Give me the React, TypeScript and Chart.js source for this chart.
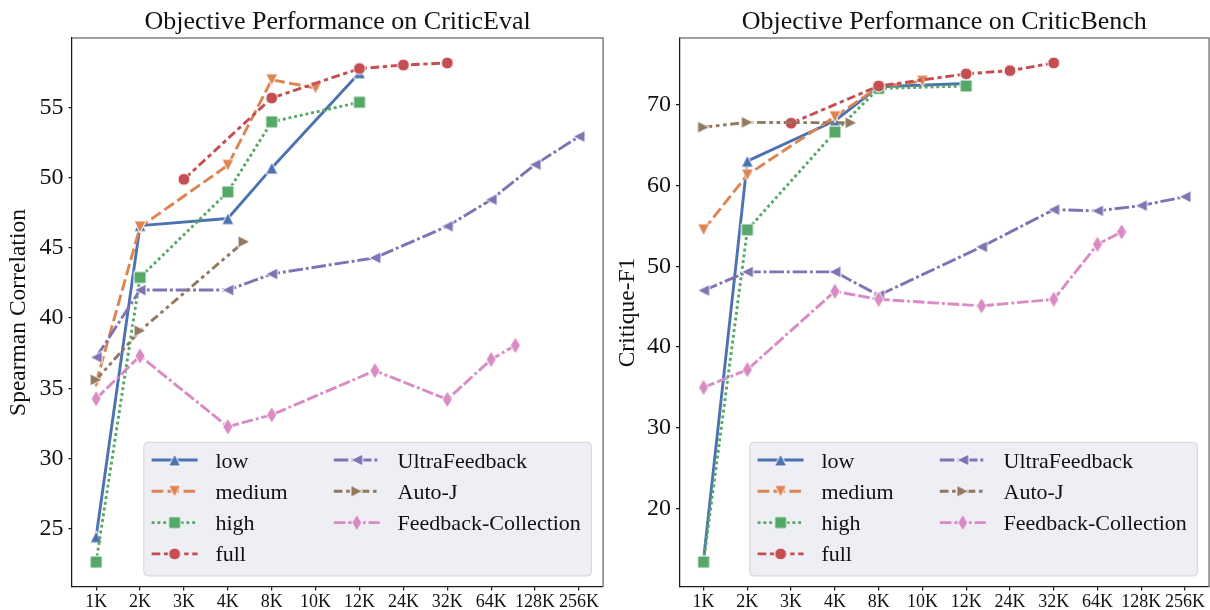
import React, { useEffect, useRef } from 'react';
import { Chart, registerables } from 'chart.js';

Chart.register(...registerables);

const FONT = "'Liberation Serif', 'Times New Roman', serif";
const TEXT = '#111111';

const categories = ['1K', '2K', '3K', '4K', '8K', '10K', '12K', '24K', '32K', '64K', '128K', '256K'];

const seriesNames = ['low', 'medium', 'high', 'full', 'UltraFeedback', 'Auto-J', 'Feedback-Collection'];
const seriesColors = ['#4C72B0', '#DD8452', '#55A868', '#C44E52', '#8172B3', '#937860', '#DA8BC3'];
const seriesMarkers = ['up', 'down', 'square', 'circle', 'left', 'right', 'thinDiamond'];
const seriesDashes = [[], [4, 1.5], [1, 1], [3, 1.25, 1.5, 1.25], [5, 1, 1, 1], [3, 1.25, 1.25, 1.25, 1.25, 1.25], [4, 1, 4, 1, 1, 1]];

// positions along the context-length axis (index into categories)
const lowX = [0, 1, 3, 4, 6];
const mediumX = [0, 1, 3, 4, 5];
const highX = [0, 1, 3, 4, 6];
const fullX = [2, 4, 6, 7, 8];
const ultraX = [0, 1, 3, 4, 6.35, 8, 9, 10, 11];
const autoJX = [0, 1, 3.37];
const fcX = [0, 1, 3, 4, 6.35, 8, 9, 9.55];

// CriticEval - Spearman Correlation
const evalLow = [24.4, 46.6, 47.1, 50.7, 57.5];
const evalMedium = [35.4, 46.5, 50.9, 57.0, 56.4];
const evalHigh = [22.6, 42.9, 49.0, 54.0, 55.4];
const evalFull = [49.9, 55.7, 57.8, 58.05, 58.2];
const evalUltra = [37.2, 42.0, 42.0, 43.15, 44.3, 46.55, 48.45, 50.95, 52.95];
const evalAutoJ = [35.6, 39.1, 45.45];
const evalFC = [34.25, 37.3, 32.25, 33.1, 36.25, 34.2, 37.05, 38.05];
const evalTicks = [25, 30, 35, 40, 45, 50, 55];

// CriticBench - Critique-F1
const benchLow = [13.7, 63.0, 68.0, 72.2, 72.6];
const benchMedium = [54.5, 61.3, 68.5, 72.2, 72.9];
const benchHigh = [13.4, 54.5, 66.6, 72.0, 72.3];
const benchFull = [67.7, 72.3, 73.8, 74.2, 75.15];
const benchUltra = [47.0, 49.3, 49.3, 46.4, 52.4, 57.0, 56.85, 57.5, 58.6];
const benchAutoJ = [67.2, 67.8, 67.75];
const benchFC = [35.0, 37.2, 46.9, 45.9, 45.1, 45.9, 52.7, 54.25];
const benchTicks = [20, 30, 40, 50, 60, 70];

const seriesX = [lowX, mediumX, highX, fullX, ultraX, autoJX, fcX];

const LW = 2.9;
const MS = 12;

function makeMarker(kind: string, color: string): HTMLCanvasElement {
  const c = document.createElement('canvas');
  const W = 24;
  c.width = W;
  c.height = W;
  const g = c.getContext('2d') as CanvasRenderingContext2D;
  g.translate(W / 2, W / 2);
  const h = MS / 2;
  g.beginPath();
  if (kind === 'up') {
    g.moveTo(0, -h); g.lineTo(h, h); g.lineTo(-h, h);
  } else if (kind === 'down') {
    g.moveTo(0, h); g.lineTo(h, -h); g.lineTo(-h, -h);
  } else if (kind === 'left') {
    g.moveTo(-h, 0); g.lineTo(h, -h); g.lineTo(h, h);
  } else if (kind === 'right') {
    g.moveTo(h, 0); g.lineTo(-h, -h); g.lineTo(-h, h);
  } else if (kind === 'circle') {
    g.arc(0, 0, h, 0, Math.PI * 2);
  } else if (kind === 'square') {
    g.rect(-h, -h, MS, MS);
  } else {
    const hh = MS * Math.SQRT1_2;
    const hw = 0.6 * hh;
    g.moveTo(0, -hh); g.lineTo(hw, 0); g.lineTo(0, hh); g.lineTo(-hw, 0);
  }
  g.closePath();
  g.fillStyle = color;
  g.fill();
  g.lineWidth = 1;
  g.strokeStyle = '#ffffff';
  g.stroke();
  return c;
}

type PanelProps = {
  left: number;
  width: number;
  yAxisWidth: number;
  yTitlePad: number;
  rightPad: number;
  title: string;
  yLabel: string;
  values: number[][];
  ticks: number[];
};

function Panel(props: PanelProps) {
  const ref = useRef<HTMLCanvasElement | null>(null);
  useEffect(() => {
    const canvas = ref.current;
    if (!canvas) return;
    const markers = seriesMarkers.map((m, i) => makeMarker(m, seriesColors[i]));
    const all = props.values.flat();
    const lo = Math.min(...all);
    const hi = Math.max(...all);
    const margin = (hi - lo) * 0.05;

    const datasets = props.values.map((ys, i) => ({
      label: seriesNames[i],
      data: ys.map((y, j) => ({ x: seriesX[i][j], y })),
      borderColor: seriesColors[i],
      backgroundColor: seriesColors[i],
      borderWidth: LW,
      borderDash: seriesDashes[i].map((d) => d * LW),
      borderJoinStyle: 'round',
      pointStyle: markers[i],
      pointRadius: 6,
      tension: 0,
      fill: false,
      clip: false,
      order: 7 - i,
    }));

    const spinePlugin = {
      id: 'spines',
      afterDatasetsDraw(chart: any) {
        const { ctx, chartArea: a } = chart;
        ctx.save();
        ctx.strokeStyle = '#808080';
        ctx.lineWidth = 1.5;
        ctx.beginPath();
        ctx.moveTo(a.left, a.top);
        ctx.lineTo(a.right, a.top);
        ctx.lineTo(a.right, a.bottom);
        ctx.stroke();
        ctx.restore();
      },
    };

    const legendPlugin = {
      id: 'boxLegend',
      afterDatasetsDraw(chart: any) {
        const { ctx, chartArea: a } = chart;
        const w = 447.6;
        const h = 133.7;
        const right = a.right - 11.7;
        const bottom = a.bottom - 11;
        const left = right - w;
        const top = bottom - h;
        ctx.save();
        ctx.beginPath();
        const r = 4;
        ctx.moveTo(left + r, top);
        ctx.lineTo(right - r, top);
        ctx.arcTo(right, top, right, top + r, r);
        ctx.lineTo(right, bottom - r);
        ctx.arcTo(right, bottom, right - r, bottom, r);
        ctx.lineTo(left + r, bottom);
        ctx.arcTo(left, bottom, left, bottom - r, r);
        ctx.lineTo(left, top + r);
        ctx.arcTo(left, top, left + r, top, r);
        ctx.closePath();
        ctx.fillStyle = 'rgba(234,234,242,0.8)';
        ctx.fill();
        ctx.lineWidth = 1;
        ctx.strokeStyle = 'rgba(204,204,204,0.8)';
        ctx.stroke();

        const colX = [7.8, 190];
        const handle = 46;
        seriesNames.forEach((name, i) => {
          const col = i < 4 ? 0 : 1;
          const row = i < 4 ? i : i - 4;
          const hx = left + colX[col];
          const hy = top + 17.7 + row * 31.3;
          ctx.save();
          ctx.strokeStyle = seriesColors[i];
          ctx.lineWidth = LW;
          ctx.setLineDash(seriesDashes[i].map((d) => d * LW));
          ctx.beginPath();
          ctx.moveTo(hx, hy);
          ctx.lineTo(hx + handle, hy);
          ctx.stroke();
          ctx.restore();
          const mk = markers[i];
          ctx.drawImage(mk, hx + handle / 2 - mk.width / 2, hy - mk.height / 2);
          ctx.fillStyle = TEXT;
          ctx.font = `22px ${FONT}`;
          ctx.textAlign = 'left';
          ctx.textBaseline = 'alphabetic';
          ctx.fillText(name, hx + 63.8, hy + 7.5);
        });
        ctx.restore();
      },
    };

    const axisBorder = { display: true, color: '#1a1a1a', width: 1.25 };
    const tickGrid = { display: true, drawOnChartArea: false, drawTicks: true, tickLength: 3.5, color: '#1a1a1a', lineWidth: 1.25 };

    const chart = new Chart(canvas, {
      type: 'line',
      data: { datasets } as any,
      options: {
        responsive: false,
        animation: false,
        events: [],
        layout: { padding: { left: 0, right: props.rightPad, top: 0, bottom: 0 } },
        plugins: {
          legend: { display: false },
          tooltip: { enabled: false },
          title: {
            display: true,
            text: props.title,
            color: TEXT,
            font: { family: FONT, size: 26, weight: 'normal', lineHeight: 1.2 },
            padding: { top: 6.8, bottom: 0 },
            fullSize: false,
          },
        },
        scales: {
          x: {
            type: 'linear',
            min: -0.55,
            max: 11.55,
            afterBuildTicks: (s: any) => {
              s.ticks = categories.map((_, i) => ({ value: i }));
            },
            afterFit: (s: any) => {
              s.height = 23;
            },
            ticks: {
              callback: (v: any) => categories[v] ?? '',
              color: TEXT,
              font: { family: FONT, size: 18 },
              padding: 1,
              maxRotation: 0,
              autoSkip: false,
            },
            grid: tickGrid,
            border: axisBorder,
          },
          y: {
            type: 'linear',
            min: lo - margin,
            max: hi + margin,
            afterBuildTicks: (s: any) => {
              s.ticks = props.ticks.map((v) => ({ value: v }));
            },
            afterFit: (s: any) => {
              s.width = props.yAxisWidth;
            },
            title: {
              display: true,
              text: props.yLabel,
              color: TEXT,
              font: { family: FONT, size: 23.5, lineHeight: 1.2 },
              padding: { top: props.yTitlePad, bottom: 0 },
            },
            ticks: {
              color: TEXT,
              font: { family: FONT, size: 24 },
              padding: 5,
            },
            grid: tickGrid,
            border: axisBorder,
          },
        },
      } as any,
      plugins: [spinePlugin, legendPlugin] as any,
    });
    return () => chart.destroy();
  }, []);

  return (
    <canvas
      ref={ref}
      width={props.width}
      height={610}
      style={{ position: 'absolute', left: props.left, top: 0, width: props.width, height: 610 }}
    />
  );
}

export default function App() {
  return (
    <div style={{ position: 'fixed', left: 0, top: 0, width: 1210, height: 610, overflow: 'hidden', background: '#ffffff' }}>
      <Panel
        left={0}
        width={612}
        yAxisWidth={72}
        yTitlePad={5}
        rightPad={6}
        title="Objective Performance on CriticEval"
        yLabel="Spearman Correlation"
        values={[evalLow, evalMedium, evalHigh, evalFull, evalUltra, evalAutoJ, evalFC]}
        ticks={evalTicks}
      />
      <Panel
        left={612}
        width={606}
        yAxisWidth={67.5}
        yTitlePad={1.4}
        rightPad={4.5}
        title="Objective Performance on CriticBench"
        yLabel="Critique-F1"
        values={[benchLow, benchMedium, benchHigh, benchFull, benchUltra, benchAutoJ, benchFC]}
        ticks={benchTicks}
      />
    </div>
  );
}
